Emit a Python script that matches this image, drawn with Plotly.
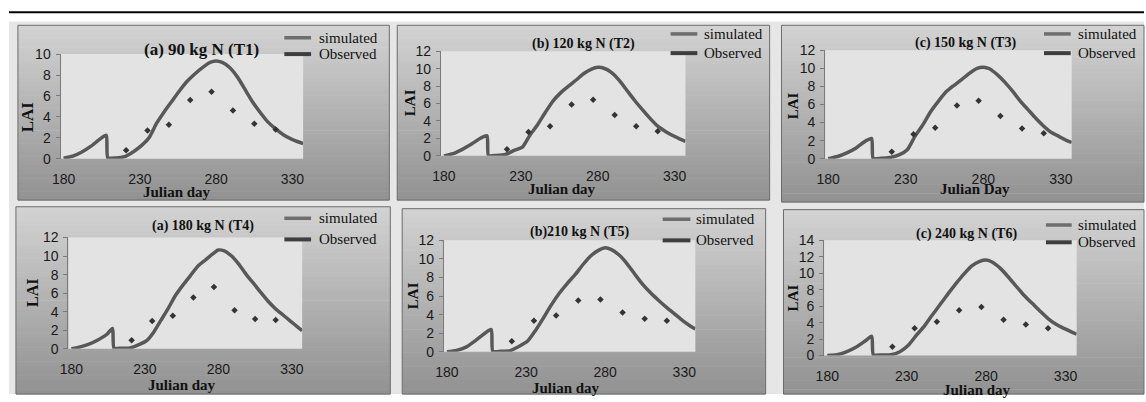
import plotly.graph_objects as go

W, H = 1146, 402

# ---------------- data ----------------
sim_days = [180, 186, 192, 198, 204, 208, 209, 214, 220, 226, 231, 236, 241, 246, 251, 256,
            261, 266, 271, 276, 280, 284, 289, 294, 299, 304, 309, 314, 319, 324, 329, 334, 337]
obs_days = [221, 235, 249, 263, 277, 291, 305, 319]

sim_T1 = [0.05, 0.25, 0.65, 1.2, 1.9, 2.25, 0.1, 0.08, 0.2, 0.7, 1.25, 2.0, 3.4, 4.5, 5.5, 6.5,
          7.4, 8.1, 8.7, 9.2, 9.35, 9.2, 8.7, 7.8, 6.6, 5.4, 4.4, 3.5, 2.85, 2.3, 1.9, 1.6, 1.45]
sim_T2 = [0.0, 0.25, 0.75, 1.35, 2.05, 2.3, 0.05, 0.05, 0.15, 0.65, 1.0, 2.4, 3.6, 5.0, 6.3, 7.25,
          8.0, 8.7, 9.45, 9.95, 10.15, 10.05, 9.55, 8.65, 7.5, 6.35, 5.3, 4.3, 3.4, 2.8, 2.3, 1.9, 1.65]
sim_T3 = [0.0, 0.25, 0.65, 1.2, 1.95, 2.25, 0.05, 0.05, 0.15, 0.45, 1.0, 2.5, 3.75, 5.2, 6.35, 7.4,
          8.1, 8.75, 9.45, 10.0, 10.13, 9.95, 9.3, 8.45, 7.45, 6.35, 5.4, 4.45, 3.6, 2.9, 2.45, 2.0, 1.8]
sim_T4 = [0.02, 0.22, 0.5, 0.95, 1.55, 2.2, 0.1, 0.08, 0.1, 0.45, 0.85, 1.8, 3.1, 4.4, 5.8, 6.9,
          7.9, 8.9, 9.55, 10.2, 10.65, 10.55, 10.0, 9.1, 8.0, 7.05, 6.05, 5.1, 4.3, 3.65, 3.0, 2.35, 1.95]
sim_T5 = [0.0, 0.15, 0.5, 1.2, 2.0, 2.4, 0.05, 0.05, 0.12, 0.62, 1.15, 2.3, 3.65, 5.05, 6.3, 7.35,
          8.3, 9.4, 10.35, 10.95, 11.2, 11.0, 10.4, 9.45, 8.3, 7.2, 6.3, 5.5, 4.75, 4.05, 3.35, 2.75, 2.45]
sim_T6 = [0.0, 0.1, 0.45, 1.0, 1.8, 2.35, 0.1, 0.08, 0.1, 0.5, 1.25, 2.45, 3.55, 4.9, 6.2, 7.5,
          8.75, 9.9, 10.9, 11.45, 11.6, 11.35, 10.6, 9.55, 8.4, 7.3, 6.35, 5.4, 4.5, 3.8, 3.3, 2.85, 2.6]

obs_T1 = [0.82, 2.7, 3.25, 5.62, 6.39, 4.62, 3.34, 2.79]
obs_T2 = [0.77, 2.74, 3.40, 5.89, 6.44, 4.68, 3.40, 2.82]
obs_T3 = [0.78, 2.72, 3.42, 5.89, 6.42, 4.73, 3.35, 2.82]
obs_T4 = [0.93, 3.01, 3.56, 5.53, 6.67, 4.15, 3.22, 3.11]
obs_T5 = [1.14, 3.34, 3.90, 5.52, 5.62, 4.24, 3.55, 3.34]
obs_T6 = [1.06, 3.32, 4.10, 5.50, 5.90, 4.34, 3.79, 3.32]

titles = ["(a) 90 kg N (T1)", "(b) 120 kg N (T2)", "(c) 150 kg N (T3)",
          "(a) 180 kg N (T4)", "(b)210 kg N (T5)", "(c) 240 kg N (T6)"]
x_titles = ["Julian day", "Julian day", "Julian Day", "Julian day", "Julian day", "Julian day"]
y_title = "LAI"
legend_names = ["simulated", "Observed"]
x_ticks = [180, 230, 280, 330]
y_max = [10, 12, 12, 12, 12, 14]

sims = [sim_T1, sim_T2, sim_T3, sim_T4, sim_T5, sim_T6]
obss = [obs_T1, obs_T2, obs_T3, obs_T4, obs_T5, obs_T6]

# ---------------- layout geometry (pixels) ----------------
panels = [  # outer panel box x0,y0,x1,y1
    (9, 18, 384, 200), (392, 18, 768, 200), (780, 18, 1146, 202),
    (7, 207, 385, 402), (397, 209, 764, 402), (782, 210, 1146, 402)]
plots = [   # plot area x0,y0,x1,y1
    (52, 48, 297, 157), (436, 45, 683, 154), (824, 44, 1073, 157),
    (60, 239, 296, 355), (439, 242, 693, 358), (823, 242, 1078, 362)]
title_pos = [(194, 43, 17), (580, 37, 14), (966, 36, 14),
             (196, 227, 14), (577, 233, 14), (967, 235, 14)]
lai_pos = [(19, 113, 17), (405, 99, 15), (792, 102, 15),
           (23, 297, 16), (408, 300, 15), (792, 302, 15)]
jd_pos = [(170, 192), (558, 189), (975, 188), (175, 393), (562, 396), (977, 398)]
leg_pos = [  # line x0, line x1, text x, y sim, y obs
    (278, 305, 311, 31, 48), (668, 695, 700, 27, 47), (1045, 1072, 1077, 27, 47),
    (278, 305, 311, 219, 241), (660, 688, 692, 220, 242), (1047, 1073, 1077, 226, 244)]


def px(x):
    return x / W


def py(y):
    return 1 - y / H


fig = go.Figure()
shapes = []
annotations = []

# background: white top, light gray behind panels
shapes.append(dict(type="rect", xref="paper", yref="paper", x0=0, x1=1, y0=py(402), y1=py(14),
                   fillcolor="#e6e6e6", line=dict(width=0), layer="below"))
shapes.append(dict(type="line", xref="paper", yref="paper", x0=0, x1=1, y0=py(4.5), y1=py(4.5),
                   line=dict(color="#000000", width=2), layer="below"))

NB = 40
top_c, bot_c = (210, 210, 210), (146, 146, 146)
for (x0, y0, x1, y1) in panels:
    h = (y1 - y0) / NB
    for k in range(NB):
        t = k / (NB - 1)
        c = tuple(int(round(top_c[i] + (bot_c[i] - top_c[i]) * t)) for i in range(3))
        shapes.append(dict(type="rect", xref="paper", yref="paper",
                           x0=px(x0), x1=px(x1), y0=py(y0 + (k + 1) * h + 0.5), y1=py(y0 + k * h),
                           fillcolor="rgb(%d,%d,%d)" % c, line=dict(width=0), layer="below"))
    shapes.append(dict(type="rect", xref="paper", yref="paper", x0=px(x0), x1=px(x1),
                       y0=py(y1), y1=py(y0), line=dict(color="#6c6c6c", width=1),
                       fillcolor="rgba(0,0,0,0)", layer="below"))

for (x0, y0, x1, y1) in plots:
    shapes.append(dict(type="rect", xref="paper", yref="paper", x0=px(x0), x1=px(x1),
                       y0=py(y1), y1=py(y0), fillcolor="#e3e3e3", line=dict(width=0), layer="below"))

serif = "Liberation Serif"
sans = "Liberation Sans"

for i in range(6):
    n = i + 1
    xa = "x" if n == 1 else "x%d" % n
    ya = "y" if n == 1 else "y%d" % n
    x0, y0, x1, y1 = plots[i]
    fig.add_trace(go.Scatter(x=sim_days, y=sims[i], mode="lines", name=legend_names[0],
                             line=dict(color="#585858", width=3.5, shape="spline", smoothing=0.6),
                             xaxis=xa, yaxis=ya, showlegend=False))
    fig.add_trace(go.Scatter(x=obs_days, y=obss[i], mode="markers", name=legend_names[1],
                             marker=dict(symbol="diamond", size=5, color="#343434"),
                             xaxis=xa, yaxis=ya, showlegend=False))
    xkey = "xaxis" if n == 1 else "xaxis%d" % n
    ykey = "yaxis" if n == 1 else "yaxis%d" % n
    fig.layout[xkey] = dict(domain=[px(x0), px(x1)], range=[178, 337], anchor=ya,
                            tickvals=x_ticks, showgrid=False, zeroline=False, showline=False,
                            ticks="", ticklabelstandoff=10,
                            tickfont=dict(family=sans, size=14, color="#1a1a1a"))
    fig.layout[ykey] = dict(domain=[py(y1), py(y0)], range=[0, y_max[i]], anchor=xa,
                            dtick=2, showgrid=False, zeroline=False, showline=True,
                            linecolor="#7a7a7a", linewidth=1, ticks="outside", ticklen=4,
                            tickcolor="#7a7a7a", ticklabelstandoff=2,
                            tickfont=dict(family=sans, size=14, color="#1a1a1a"))

    tx, ty, ts = title_pos[i]
    annotations.append(dict(text="<b>%s</b>" % titles[i], x=px(tx), y=py(ty), xref="paper",
                            yref="paper", showarrow=False, xanchor="center", yanchor="middle",
                            font=dict(family=serif, size=ts, color="#111111")))
    lx, ly, ls = lai_pos[i]
    annotations.append(dict(text="<b>%s</b>" % y_title, x=px(lx), y=py(ly), xref="paper",
                            yref="paper", showarrow=False, xanchor="center", yanchor="middle",
                            textangle=-90, font=dict(family=serif, size=ls, color="#111111")))
    jx, jy = jd_pos[i]
    annotations.append(dict(text="<b>%s</b>" % x_titles[i], x=px(jx), y=py(jy), xref="paper",
                            yref="paper", showarrow=False, xanchor="center", yanchor="middle",
                            font=dict(family=serif, size=15, color="#111111")))
    lx0, lx1, ltx, lys, lyo = leg_pos[i]
    shapes.append(dict(type="line", xref="paper", yref="paper", x0=px(lx0), x1=px(lx1),
                       y0=py(lys), y1=py(lys), line=dict(color="#6e6e6e", width=3.5)))
    shapes.append(dict(type="line", xref="paper", yref="paper", x0=px(lx0), x1=px(lx1),
                       y0=py(lyo), y1=py(lyo), line=dict(color="#3e3e3e", width=4)))
    for name, yy in ((legend_names[0], lys), (legend_names[1], lyo)):
        annotations.append(dict(text=name, x=px(ltx), y=py(yy), xref="paper", yref="paper",
                                showarrow=False, xanchor="left", yanchor="middle",
                                font=dict(family=serif, size=15, color="#111111")))

fig.update_layout(width=W, height=H, margin=dict(l=0, r=0, t=0, b=0),
                  paper_bgcolor="#ffffff", plot_bgcolor="rgba(0,0,0,0)",
                  shapes=shapes, annotations=annotations, showlegend=False)

fig.write_html("out.html", config={"displayModeBar": False},
               post_script="document.body.style.margin='0px';"
                           "document.body.style.overflow='hidden';")
